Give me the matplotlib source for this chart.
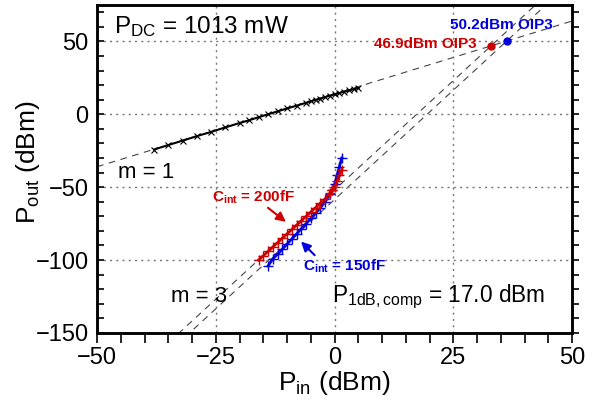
import matplotlib
matplotlib.use("Agg")
import matplotlib.pyplot as plt
from matplotlib.ticker import MultipleLocator

plt.rcParams['font.family'] = ['Liberation Sans', 'DejaVu Sans']
plt.rcParams['mathtext.fontset'] = 'custom'
plt.rcParams['mathtext.rm'] = 'Liberation Sans'
plt.rcParams['mathtext.it'] = 'Liberation Sans:italic'
plt.rcParams['mathtext.bf'] = 'Liberation Sans:bold'

# fundamental (m = 1) measured
pin_fund = [-38, -35, -32, -29, -26, -23, -20, -18, -16, -14, -12, -10, -8, -6,
            -5, -4, -3, -2, -1, 0, 1, 2, 3, 4, 5]
pout_fund = [-24.2, -21.1, -18.1, -15.0, -12.1, -9.0, -6.0, -4.1, -2.0, 0.0, 2.0, 4.0,
             5.9, 7.9, 8.9, 9.9, 10.8, 11.8, 12.8, 13.7, 14.6, 15.5, 16.4, 17.2, 18.0]

# third order products (m = 3)
pin_im3_200 = [-16, -15, -14, -13, -12, -11, -10, -9, -8, -7, -6, -5, -4, -3, -2, -1,
               -0.5, 0, 0.5, 1, 1.5]
pout_im3_200 = [-100, -97, -94, -91, -88, -85, -82, -79, -76, -73, -70, -67, -64, -61,
                -58, -54, -52, -50, -46, -42, -38]
pin_im3_150 = [-14, -13, -12, -11, -10, -9, -8, -7, -6, -5, -4, -3, -2, -1, -0.5, 0,
               0.5, 1, 1.5]
pout_im3_150 = [-104, -99, -96, -92.5, -89, -85.5, -82, -78.5, -75, -71.5, -68, -64,
                -60, -55, -52, -48, -42, -36, -30]

gain = 14.0
oip3_200 = 46.9
oip3_150 = 50.2
p1db = 17.0

fig = plt.figure(figsize=(6.03, 4.11), dpi=100)
ax = fig.add_axes([0.161, 0.19, 0.788, 0.798])
xmin, xmax, ymin, ymax = -50, 50, -150, 75

dash = dict(color='#444444', lw=0.8, ls=(0, (6, 5)), zorder=1)
# extrapolated lines
ax.plot([xmin, xmax], [xmin + gain, xmax + gain], **dash)
for oip in (oip3_200, oip3_150):
    iip = oip - gain
    ax.plot([xmin, xmax], [oip + 3 * (xmin - iip), oip + 3 * (xmax - iip)], **dash)

ax.plot(pin_fund, pout_fund, color='black', lw=1.5, marker='x', ms=5, mew=0.8, zorder=3)
ax.plot(pin_im3_150, pout_im3_150, color='#0000dd', lw=2, marker='+', ms=7, mew=1, zorder=3)
ax.plot(pin_im3_200, pout_im3_200, color='#cc0000', lw=2, marker='+', ms=7, mew=1, zorder=4)

ax.plot(oip3_200 - gain, oip3_200, 'o', color='#cc0000', ms=5, zorder=5)
ax.plot(oip3_150 - gain, oip3_150, 'o', color='#0000dd', ms=5, zorder=5)

ax.text(-46.5, 69, r'P$_{\rm DC}$ = 1013 mW', fontsize=17.5, va='top')
ax.text(-45.5, -40, 'm = 1', fontsize=16, va='center')
ax.text(-34.5, -125, 'm = 3', fontsize=16, va='center')
ax.text(-0.5, -125, r'P$_{\rm 1dB,comp}$ = %.1f dBm' % p1db, fontsize=16.3, va='center')

ax.text(29.8, 48.5, '%.1fdBm OIP3' % oip3_200, color='#cc0000', fontsize=11,
        fontweight='bold', ha='right', va='center')
ax.text(24.3, 61, '%.1fdBm OIP3' % oip3_150, color='#0000dd', fontsize=11,
        fontweight='bold', ha='left', va='center')

ax.text(-25.8, -57, r'C$_{\mathbf{int}}$ = 200fF', color='#cc0000', fontsize=11,
        fontweight='bold', va='center')
ax.annotate('', xy=(-9.8, -75), xytext=(-14.5, -63),
            arrowprops=dict(arrowstyle='-|>', color='#cc0000', lw=1.5, mutation_scale=14))
ax.text(-6.6, -104, r'C$_{\mathbf{int}}$ = 150fF', color='#0000dd', fontsize=11,
        fontweight='bold', va='center')
ax.annotate('', xy=(-7.5, -86), xytext=(-3.8, -98),
            arrowprops=dict(arrowstyle='-|>', color='#0000dd', lw=1.5, mutation_scale=14))

ax.set_xlim(xmin, xmax)
ax.set_ylim(ymin, ymax)
ax.xaxis.set_major_locator(MultipleLocator(25))
ax.xaxis.set_minor_locator(MultipleLocator(5))
ax.yaxis.set_major_locator(MultipleLocator(50))
ax.yaxis.set_minor_locator(MultipleLocator(10))
ax.tick_params(axis='x', which='both', direction='out', length=7, width=1.2,
               labelsize=17, pad=3, top=False)
ax.tick_params(axis='y', which='both', direction='in', length=5, width=1.2,
               labelsize=17, pad=6)
ax.grid(True, which='major', color='#777777', ls=(0, (1.5, 3)), lw=1)

axr = ax.twinx()
axr.set_ylim(ymin, ymax)
axr.yaxis.set_major_locator(MultipleLocator(10))
axr.tick_params(axis='y', direction='out', length=5, width=1.2, labelright=False)

for a in (ax, axr):
    for s in a.spines.values():
        s.set_linewidth(1.8)

ax.set_xlabel(r'P$_{\rm in}$ (dBm)', fontsize=19, labelpad=0)
ax.set_ylabel(r'P$_{\rm out}$ (dBm)', fontsize=19)
ax.yaxis.set_label_coords(-0.115, 0.52)

fig.savefig('out.png', dpi=100)
